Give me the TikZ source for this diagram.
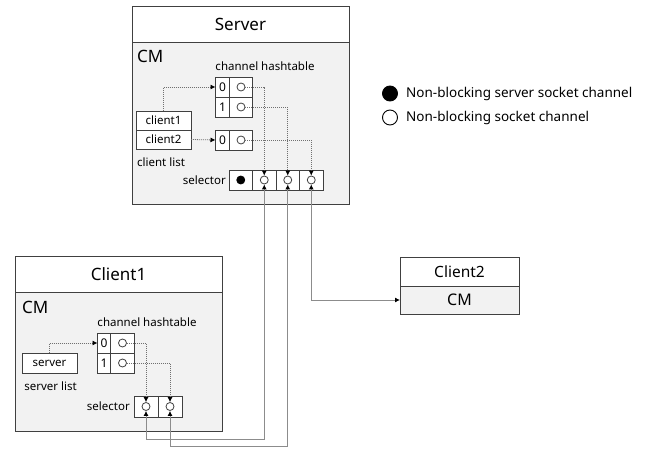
\documentclass[tikz,border=0pt]{standalone}
\usepackage{fontspec}
\setmainfont{Noto Sans}
\usetikzlibrary{arrows.meta}
\definecolor{edge}{HTML}{404040}
\definecolor{panel}{HTML}{F2F2F2}
\definecolor{wirec}{HTML}{8C8C8C}
\definecolor{dotc}{HTML}{707070}
\newcommand{\fs}[1]{\fontsize{#1}{#1}\selectfont}
\begin{document}
\begin{tikzpicture}[x=1pt,y=-1pt,
  frame/.style={draw=edge,line width=0.9pt,inner sep=0pt,outer sep=0pt,anchor=north west},
  titlebox/.style={frame,fill=white,font=\fs{17}},
  panelbox/.style={frame,fill=panel},
  cellbox/.style={frame,fill=white,minimum height=20pt,font=\fs{12}},
  dot/.style={circle,draw=edge,line width=0.8pt,fill=white,minimum size=8pt,inner sep=0pt},
  legdot/.style={circle,draw=black,line width=0.9pt,minimum size=15pt,inner sep=0pt},
  small/.style={inner sep=0pt,font=\fs{11.5}},
  big/.style={inner sep=0pt,font=\fs{17}},
  tip/.style={},
  dotconn/.style={draw=dotc,line width=0.8pt,dash pattern=on 1pt off 1pt,
    -{Latex[length=5pt,width=5pt,fill=black,color=black]}},
  wire/.style={draw=wirec,line width=0.9pt,
    {Latex[length=5pt,width=5pt,fill=black,color=black]}-{Latex[length=5pt,width=5pt,fill=black,color=black]}}
]
\useasboundingbox (0,0) rectangle (648,449);

% ---------------- Server ----------------
\node[titlebox,minimum width=217,minimum height=36] (srvT) at (132,6) {Server};
\node[panelbox,minimum width=217,minimum height=162] (srvP) at (132,42) {};
\node[big,anchor=west] (srvCM) at (137,56) {CM};
\node[small] (srvHT) at (265,66) {channel hashtable};

% channel hashtable (two tables)
\node[cellbox,minimum width=14] (hA0k) at (215.5,77) {0};
\node[cellbox,minimum width=23] (hA0v) at (229.5,77) {};
\node[cellbox,minimum width=14] (hA1k) at (215.5,97) {1};
\node[cellbox,minimum width=23] (hA1v) at (229.5,97) {};
\node[cellbox,minimum width=14] (hB0k) at (215.5,130) {0};
\node[cellbox,minimum width=23] (hB0v) at (229.5,130) {};
\node[dot] (hA0c) at (hA0v.center) {};
\node[dot] (hA1c) at (hA1v.center) {};
\node[dot] (hB0c) at (hB0v.center) {};

% client list
\node[cellbox,minimum width=55,minimum height=19,font=\fs{11.5}] (cl1) at (136,111) {client1};
\node[cellbox,minimum width=55,minimum height=19,font=\fs{11.5}] (cl2) at (136,130) {client2};
\node[small,anchor=west] (cllist) at (137,162) {client list};

% selector
\node[small,anchor=east] (srvSelL) at (226,180) {selector};
\node[cellbox,minimum width=23.5] (sel1) at (229,170) {};
\node[cellbox,minimum width=23.5] (sel2) at (252.5,170) {};
\node[cellbox,minimum width=23.5] (sel3) at (276,170) {};
\node[cellbox,minimum width=23.5] (sel4) at (299.5,170) {};
\node[dot,fill=black,draw=black] (sd1) at (sel1.center) {};
\node[dot] (sd2) at (sel2.center) {};
\node[dot] (sd3) at (sel3.center) {};
\node[dot] (sd4) at (sel4.center) {};

% ---------------- Client1 ----------------
\node[titlebox,minimum width=207,minimum height=36] (c1T) at (15,256) {Client1};
\node[panelbox,minimum width=207,minimum height=139] (c1P) at (15,292) {};
\node[big,anchor=west] (c1CM) at (22,307) {CM};
\node[small] (c1HT) at (147,322) {channel hashtable};

\node[cellbox,minimum width=13] (kA0k) at (97.5,333) {0};
\node[cellbox,minimum width=24] (kA0v) at (110.5,333) {};
\node[cellbox,minimum width=13] (kA1k) at (97.5,353) {1};
\node[cellbox,minimum width=24] (kA1v) at (110.5,353) {};
\node[dot] (kA0c) at (kA0v.center) {};
\node[dot] (kA1c) at (kA1v.center) {};

\node[cellbox,minimum width=55,font=\fs{11.5}] (sl) at (22,353) {server};
\node[small] (sllist) at (50.5,386) {server list};

\node[small,anchor=east] (c1SelL) at (130,406.5) {selector};
\node[cellbox,minimum width=24,minimum height=21] (ks1) at (134,396) {};
\node[cellbox,minimum width=24,minimum height=21] (ks2) at (158,396) {};
\node[dot] (kd1) at (ks1.center) {};
\node[dot] (kd2) at (ks2.center) {};

% ---------------- Client2 ----------------
\node[titlebox,minimum width=119,minimum height=29,font=\fs{15.5}] (c2T) at (400,257) {Client2};
\node[panelbox,minimum width=119,minimum height=28,font=\fs{16}] (c2CM) at (400,286) {CM};

% ---------------- Legend ----------------
\node[legdot,fill=black] (lg1) at (390,93.5) {};
\node[inner sep=0pt,anchor=west,font=\fs{13.5}] (lg1t) at (406,93.5) {Non-blocking server socket channel};
\node[legdot,fill=white] (lg2) at (390,117.5) {};
\node[inner sep=0pt,anchor=west,font=\fs{13.5}] (lg2t) at (406,117.5) {Non-blocking socket channel};

% ---------------- dotted references ----------------
\draw[dotconn] (cl1.north) |- (hA0k.west);
\draw[dotconn] (cl2.east) -- (hB0k.west);
\draw[dotconn] (hA0c.east) -| (sd2.north);
\draw[dotconn] (hA1c.east) -| (sd3.north);
\draw[dotconn] (hB0c.east) -| (sd4.north);
\draw[dotconn] (sl.north) |- (kA0k.west);
\draw[dotconn] (kA0c.east) -| (kd1.north);
\draw[dotconn] (kA1c.east) -| (kd2.north);

% ---------------- socket connections ----------------
\coordinate (b1) at (205,439.5);
\coordinate (b2) at (230,446.5);
\draw[wire] (sd2.south) |- (b1) -| (kd1.south);
\draw[wire] (sd3.south) |- (b2) -| (kd2.south);
\draw[wire] (sd4.south) |- (c2CM.west);
\end{tikzpicture}
\end{document}
